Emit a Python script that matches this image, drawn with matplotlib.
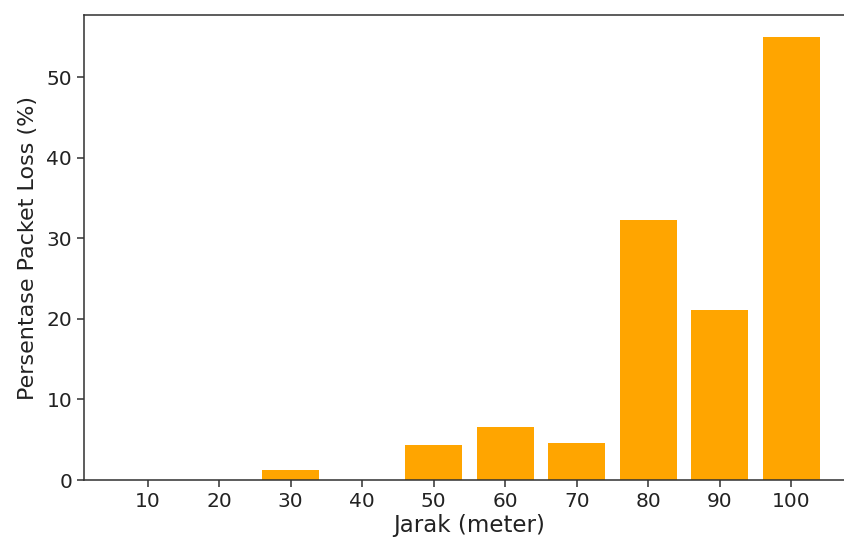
import matplotlib
matplotlib.use("Agg")
import matplotlib.pyplot as plt

jarak = ["10", "20", "30", "40", "50", "60", "70", "80", "90", "100"]
packet_loss = [0, 0, 1.2, 0, 4.4, 6.6, 4.6, 32.3, 21.1, 55.0]

s = 1.4
fig = plt.figure(figsize=(8.44, 5.39), dpi=100)
W, H = 844, 539
ax = fig.add_axes([84 / W, (539 - 480) / H, 771 / W, 465 / H])
ax.bar(jarak, packet_loss, color="orange", width=0.8)
ax.set_xlabel("Jarak (meter)", fontsize=16.5, color="#222222", labelpad=2)
ax.set_ylabel("Persentase Packet Loss (%)", fontsize=16, color="#222222", labelpad=6)
ax.tick_params(labelsize=14.5, length=5, width=0.8 * s, colors="#333333", labelcolor="#222222")
for sp in ax.spines.values():
    sp.set_linewidth(0.8 * s)
    sp.set_color("#333333")
fig.savefig("out.png", dpi=100)
